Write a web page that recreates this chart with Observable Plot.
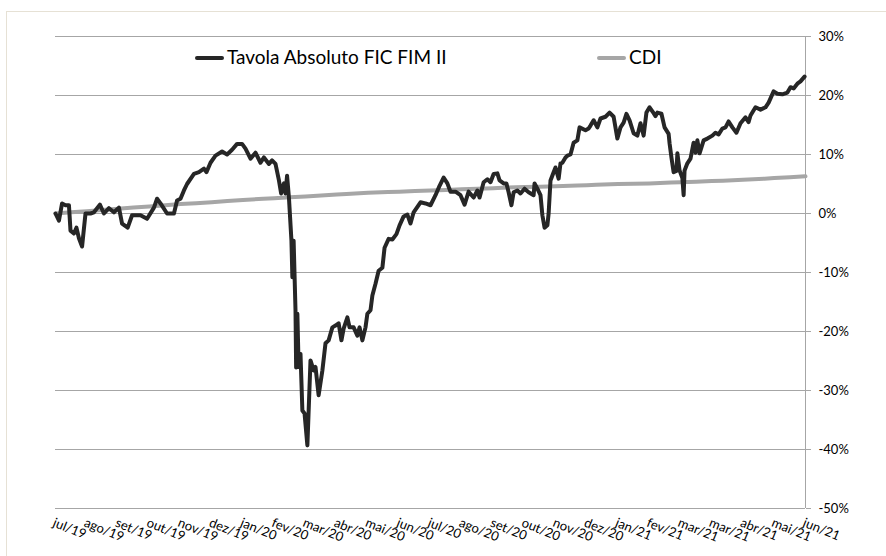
<!DOCTYPE html>
<html>
<head>
<meta charset="utf-8">
<script src="https://cdn.jsdelivr.net/npm/d3@7"></script>
<script src="https://cdn.jsdelivr.net/npm/@observablehq/plot@0.6"></script>
<style>
  html, body { margin: 0; padding: 0; background: #fff; }
  #wrap { position: relative; width: 886px; height: 556px; overflow: hidden; font-family: Lato, "Open Sans", sans-serif; }
  #frame { position: absolute; left: 6px; top: 11px; width: 950px; height: 650px; border: 1px solid #e6e1d5; box-sizing: border-box; }
  #chart { position: absolute; left: 0; top: 0; }
  .leg { position: absolute; top: 45px; font-size: 19px; color: #000; line-height: 24px; white-space: nowrap; }
  .sw { display: inline-block; width: 29px; height: 4px; border-radius: 2px; vertical-align: middle; margin-right: 3px; position: relative; top: -1px; }
</style>
</head>
<body>
<div id="wrap">
  <div id="frame"></div>
  <div id="chart"></div>
  <div class="leg" style="left:195px"><span class="sw" style="background:#262626"></span>Tavola Absoluto FIC FIM II</div>
  <div class="leg" style="left:597px"><span class="sw" style="background:#a6a6a6"></span>CDI</div>
</div>
<script>
// Category labels along the x axis (one per month step)
const xLabels = ["jul/19","ago/19","set/19","out/19","nov/19","dez/19","jan/20","fev/20","mar/20","abr/20","mai/20","jun/20","jul/20","ago/20","set/20","out/20","nov/20","dez/20","jan/21","fev/21","mar/21","mar/21","abr/21","mai/21","jun/21"];
// Y tick values (%)
const yTicks = [-50, -40, -30, -20, -10, 0, 10, 20, 30];

// CDI cumulative return (%) at each label step
const cdiValues = [0, 0.4, 0.8, 1.2, 1.6, 1.9, 2.3, 2.6, 2.9, 3.2, 3.5, 3.7, 3.9, 4.1, 4.3, 4.5, 4.6, 4.8, 5.0, 5.1, 5.3, 5.5, 5.7, 6.0, 6.3];

// Fund cumulative return: position in label steps and value (%)
const fundT = [0,0.11,0.21,0.32,0.43,0.48,0.59,0.67,0.75,0.85,0.96,1.12,1.23,1.42,1.55,1.71,1.87,2.03,2.13,2.31,2.45,2.72,2.93,3.15,3.25,3.36,3.57,3.79,3.89,4.00,4.11,4.21,4.43,4.59,4.75,4.83,4.96,5.12,5.33,5.49,5.65,5.81,5.97,6.08,6.24,6.40,6.56,6.67,6.83,6.93,7.04,7.15,7.22,7.31,7.36,7.41,7.47,7.55,7.58,7.62,7.68,7.70,7.74,7.78,7.84,7.90,7.97,8.06,8.16,8.26,8.32,8.42,8.54,8.64,8.74,8.86,8.96,9.06,9.15,9.22,9.34,9.41,9.54,9.66,9.73,9.82,9.92,9.98,10.08,10.14,10.24,10.34,10.46,10.53,10.66,10.78,10.91,11.01,11.14,11.26,11.36,11.46,11.68,11.84,12.00,12.16,12.29,12.42,12.54,12.64,12.80,12.96,13.09,13.22,13.38,13.50,13.57,13.70,13.82,13.92,14.02,14.14,14.21,14.34,14.43,14.50,14.59,14.66,14.78,14.88,15.01,15.14,15.30,15.33,15.42,15.52,15.58,15.65,15.74,15.78,15.84,15.94,16.00,16.10,16.16,16.22,16.32,16.38,16.48,16.58,16.70,16.77,16.96,17.06,17.12,17.22,17.34,17.44,17.60,17.73,17.86,17.98,18.08,18.18,18.27,18.37,18.50,18.62,18.72,18.82,18.91,19.01,19.14,19.20,19.26,19.39,19.49,19.62,19.65,19.71,19.78,19.87,19.90,19.97,20.06,20.10,20.13,20.22,20.32,20.42,20.48,20.54,20.61,20.74,20.86,21.02,21.12,21.22,21.34,21.44,21.54,21.66,21.79,21.92,22.08,22.18,22.24,22.40,22.56,22.72,22.82,22.98,23.10,23.26,23.42,23.52,23.62,23.74,23.84,23.97];
const fundV = [0,-1.2,1.7,1.4,1.4,-2.9,-3.4,-2.4,-4.2,-5.6,0,0,0.2,1.5,0,0.9,0.2,1.0,-1.7,-2.4,-0.3,-0.3,-0.9,1.0,2.5,1.7,0,0,2.2,2.5,3.9,5.0,6.7,7.0,7.6,7.0,8.6,9.8,10.5,10.0,10.8,11.8,11.8,11.0,9.3,10.3,8.6,9.5,8.4,9.0,8.4,5.6,3.4,5.1,3.4,6.4,2.7,-4.6,-10.8,-4.6,-16.4,-26.1,-17,-26,-23.8,-33.4,-33.9,-39.3,-24.9,-26.6,-26,-30.8,-26.6,-22,-21.5,-19.3,-19,-18.6,-21.5,-19.5,-17.6,-19.3,-19.3,-20.7,-19.3,-21.5,-19.3,-17,-16.4,-13.9,-11.9,-9.7,-9.2,-5.8,-4.3,-4.4,-3.5,-2.0,-0.5,-0.2,-1.7,0.2,1.9,1.7,1.4,3.1,4.7,6.1,5.1,3.7,3.7,3.1,1.5,3.7,2.7,3.9,2.7,5.3,5.8,5.3,6.7,6.8,5.6,5.1,5.1,3.6,1.4,3.6,3.9,3.4,4.2,3.6,3.1,5.1,4.2,3.1,-0.3,-2.4,-2.0,0,5.6,7.0,7.8,5.9,8.5,8.6,9.5,9.8,10.0,12.0,12.4,14.6,14.1,14.4,14.9,15.8,14.6,16.1,16.4,17.1,16.4,12.7,14.6,15.4,16.9,15.8,13.6,13.2,15.3,13.2,17.1,18.0,17.0,16.5,17.1,16.9,14.6,13.5,11.9,9.5,7.0,7.2,10.2,7.3,6.0,3.1,7.3,8.5,9.3,12.0,10.3,12.4,10.2,12.4,12.7,13.2,13.7,13.4,14.4,14.6,15.6,14.6,13.7,15.3,16.3,15.5,16.6,18.0,17.6,18.0,18.8,20.7,20.3,20.2,20.5,21.4,21.2,22.0,22.4,23.2];

const cdiData = cdiValues.map((v, i) => ({t: i, v}));
const fundData = fundT.map((t, i) => ({t, v: fundV[i]}));
const xTicks = xLabels.map((_, i) => i);

const chart = Plot.plot({
  width: 886,
  height: 556,
  marginLeft: 55,
  marginRight: 81,
  marginTop: 36,
  marginBottom: 48,
  x: {domain: [0, 24]},
  y: {domain: [-50, 30]},
  style: {fontFamily: "Lato, 'Open Sans', sans-serif", background: "transparent", color: "#000"},
  marks: [
    Plot.gridY(yTicks, {stroke: "#a6a6a6", strokeOpacity: 1, strokeWidth: 1}),
    Plot.ruleX([24], {stroke: "#a6a6a6", strokeWidth: 1}),
    Plot.axisY(yTicks, {anchor: "right", tickSize: 5, tickPadding: 8, tickFormat: d => d + "%", stroke: "#a6a6a6", fill: "#000", fontSize: 13, label: null}),
    Plot.axisX(xTicks, {anchor: "bottom", tickSize: 0, tickPadding: 9, tickRotate: 22, textAnchor: "start", lineAnchor: "top", tickFormat: i => xLabels[i], fill: "#000", fontSize: 13, label: null}),
    Plot.line(cdiData, {x: "t", y: "v", stroke: "#a6a6a6", strokeWidth: 4, curve: "monotone-x"}),
    Plot.line(fundData, {x: "t", y: "v", stroke: "#262626", strokeWidth: 4, strokeLinejoin: "round"})
  ]
});
document.getElementById("chart").appendChild(chart);
</script>
</body>
</html>
